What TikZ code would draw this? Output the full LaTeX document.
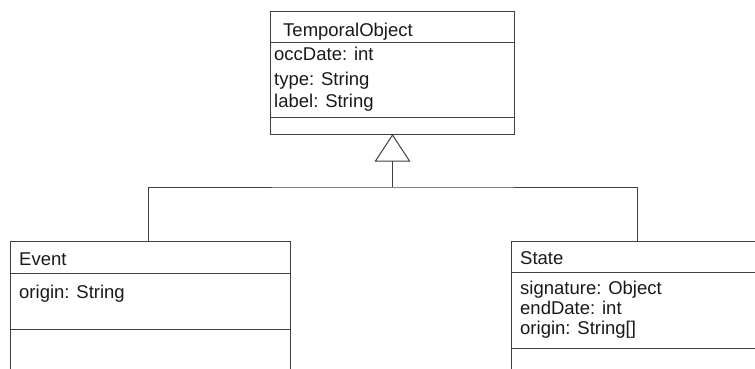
\documentclass[tikz,border=0pt]{standalone}
\usepackage{fontspec}
\setmainfont{Liberation Sans}
\usetikzlibrary{calc}
\begin{document}
\begin{tikzpicture}[x=1pt,y=-1pt,
  ln/.style={draw=black!75, line width=1pt},
  cls/.style={ln, rectangle, inner sep=0pt, anchor=north west},
  txt/.style={anchor=base west, inner sep=0pt, font=\fontsize{18.5}{20}\selectfont, text=black!90}]
\clip (0,0) rectangle (755,369);
% boxes
\node[cls, minimum width=244pt, minimum height=123pt] (top) at (270,11) {};
\node[cls, minimum width=280pt, minimum height=160pt] (event) at (10,241) {};
\node[cls, minimum width=280pt, minimum height=160pt] (state) at (511,241) {};
% compartments
\draw[ln] (top.north west) ++(0,32) -- ++(244,0);
\draw[ln] (top.north west) ++(0,106) -- ++(244,0);
\draw[ln] (event.north west) ++(0,32) -- ++(280,0);
\draw[ln] (event.north west) ++(0,88) -- ++(280,0);
\draw[ln] (state.north west) ++(0,31) -- ++(280,0);
\draw[ln] (state.north west) ++(0,107) -- ++(280,0);
% texts
\node[txt] (tn) at (283,37) {TemporalObject};
\node[txt] (ta1) at (274,61) {occDate: int};
\node[txt] (ta2) at (274,85) {type: String};
\node[txt] (ta3) at (274,107) {label: String};
\node[txt] (en) at (19,265) {Event};
\node[txt] (ea1) at (19,298) {origin: String};
\node[txt] (sn) at (520,264) {State};
\node[txt] (sa1) at (520,294) {signature: Object};
\node[txt] (sa2) at (520,314) {endDate: int};
\node[txt] (sa3) at (520,334) {origin: String[]};
% generalization
\coordinate (apex) at (top.south);
\draw[ln, line join=miter] (apex) -- ++(-17,26) -- ++(34,0) -- cycle;
\draw[ln] (apex) ++(0,26) -- ++(0,26) coordinate (junction);
\coordinate (ej) at ($(event.north west)+(138,0)$);
\coordinate (sj) at ($(state.north west)+(126,0)$);
\draw[ln] (ej) |- (junction) -| (sj);
\end{tikzpicture}
\end{document}
